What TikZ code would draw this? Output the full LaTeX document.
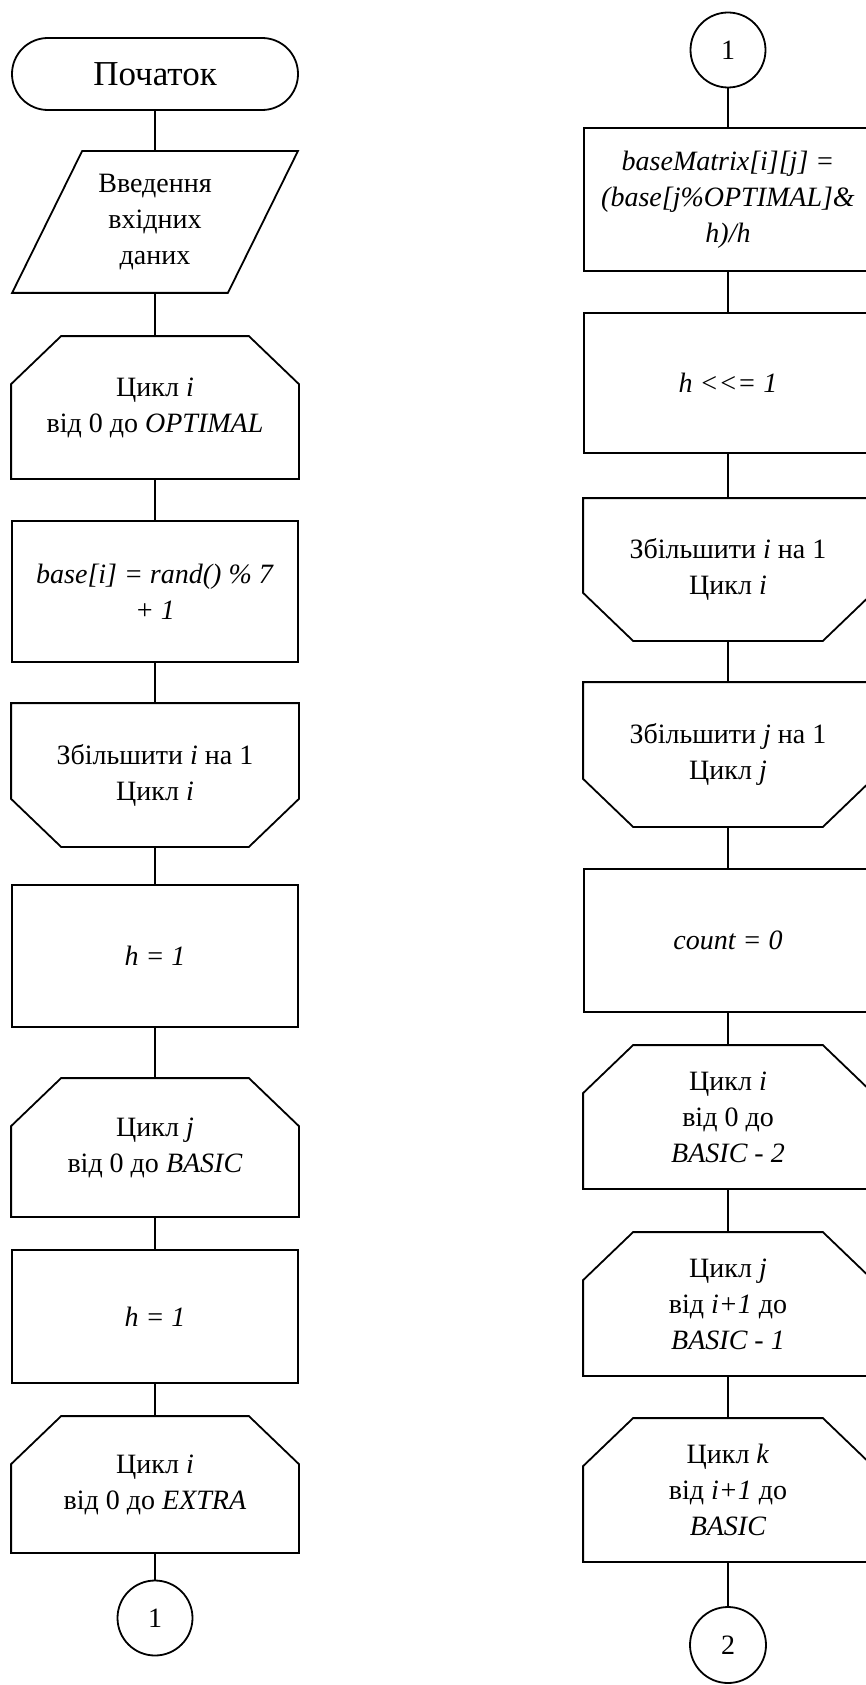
\documentclass[tikz,border=0pt]{standalone}
\usepackage{fontspec}
\setmainfont{Liberation Serif}
\newcommand\fs{\fontsize{28}{36}\selectfont}
\newcommand\fsbig{\fontsize{35}{40}\selectfont}
\newcommand\LoopTop[1]{\draw (#1.south west) -- ([yshift=-48pt]#1.north west) -- ([xshift=50pt]#1.north west) -- ([xshift=-50pt]#1.north east) -- ([yshift=-48pt]#1.north east) -- (#1.south east) -- cycle;}
\newcommand\LoopBot[1]{\draw (#1.north west) -- ([yshift=48pt]#1.south west) -- ([xshift=50pt]#1.south west) -- ([xshift=-50pt]#1.south east) -- ([yshift=48pt]#1.south east) -- (#1.north east) -- cycle;}
\newcommand\Para[1]{\draw ([xshift=35pt]#1.north west) -- ([xshift=35pt]#1.north east) -- ([xshift=-35pt]#1.south east) -- ([xshift=-35pt]#1.south west) -- cycle;}
\begin{document}
\begin{tikzpicture}[x=1pt,y=-1pt, line width=1.8pt,
  base/.style={rectangle, inner sep=0pt, align=center, font=\fs},
  lbox/.style={base, draw, minimum width=286pt},
  rbox/.style={base, draw, minimum width=288pt},
  lloop/.style={base, minimum width=286pt},
  rloop/.style={base, minimum width=288pt},
  term/.style={base, draw, rounded corners=35.9pt, minimum width=286pt, minimum height=72pt, font=\fsbig},
  io/.style={base, minimum width=214pt, minimum height=140pt},
  conn/.style={circle, draw, minimum size=75pt, inner sep=0pt, font=\fs},
  line/.style={draw}]
\useasboundingbox (0,0) rectangle (866,1685);
\clip (0,0) rectangle (866,1685);
\fill[white] (0,0) rectangle (866,1685);

% left column
\node[term] (start) at (155,74) {Початок};
\node[io] (in) at (155,222) {Введення\\вхідних\\даних};
\Para{in}
\node[lloop, minimum height=141pt] (c1) at (155,407.5) {Цикл \textit{i}\\від 0 до \textit{OPTIMAL}};
\LoopTop{c1}
\node[lbox, minimum height=141pt] (b1) at (155,591.5) {\textit{base[i] = rand() \% 7}\\\textit{+ 1}};
\node[lloop, minimum height=142pt] (e1) at (155,775) {Збільшити \textit{i} на 1\\Цикл \textit{i}};
\LoopBot{e1}
\node[lbox, minimum height=142pt] (h1) at (155,956) {\textit{h = 1}};
\node[lloop, minimum height=137pt] (c2) at (155,1147.5) {Цикл \textit{j}\\від 0 до \textit{BASIC}};
\LoopTop{c2}
\node[lbox, minimum height=133pt] (h2) at (155,1316.5) {\textit{h = 1}};
\node[lloop, minimum height=135pt] (c3) at (155,1484.5) {Цикл \textit{i}\\від 0 до \textit{EXTRA}};
\LoopTop{c3}
\node[conn] (k1) at (155,1618) {1};

\draw (start.south) -- (in.north);
\draw (in.south) -- (c1.north);
\draw (c1.south) -- (b1.north);
\draw (b1.south) -- (e1.north);
\draw (e1.south) -- (h1.north);
\draw (h1.south) -- (c2.north);
\draw (c2.south) -- (h2.north);
\draw (h2.south) -- (c3.north);
\draw (c3.south) -- (k1.north);

% right column
\node[conn] (k2) at (728,50) {1};
\node[rbox, minimum height=143pt] (r1) at (728,199.5) {\textit{baseMatrix[i][j] =}\\\textit{(base[j\%OPTIMAL]\&}\\\textit{h)/h}};
\node[rbox, minimum height=140pt] (r2) at (728,383) {\textit{h {<}{<}= 1}};
\node[rloop, minimum height=141pt] (r3) at (728,569.5) {Збільшити \textit{i} на 1\\Цикл \textit{i}};
\LoopBot{r3}
\node[rloop, minimum height=143pt] (r4) at (728,754.5) {Збільшити \textit{j} на 1\\Цикл \textit{j}};
\LoopBot{r4}
\node[rbox, minimum height=143pt] (r5) at (728,940.5) {\textit{count = 0}};
\node[rloop, minimum height=142pt] (r6) at (728,1117) {Цикл \textit{i}\\від 0 до\\\textit{BASIC - 2}};
\LoopTop{r6}
\node[rloop, minimum height=142pt] (r7) at (728,1304) {Цикл \textit{j}\\від \textit{i+1} до\\\textit{BASIC - 1}};
\LoopTop{r7}
\node[rloop, minimum height=142pt] (r8) at (728,1490) {Цикл \textit{k}\\від \textit{i+1} до\\\textit{BASIC}};
\LoopTop{r8}
\node[conn, minimum size=76pt] (k3) at (728,1645) {2};

\draw (k2.south) -- (r1.north);
\draw (r1.south) -- (r2.north);
\draw (r2.south) -- (r3.north);
\draw (r3.south) -- (r4.north);
\draw (r4.south) -- (r5.north);
\draw (r5.south) -- (r6.north);
\draw (r6.south) -- (r7.north);
\draw (r7.south) -- (r8.north);
\draw (r8.south) -- (k3.north);
\end{tikzpicture}
\end{document}
